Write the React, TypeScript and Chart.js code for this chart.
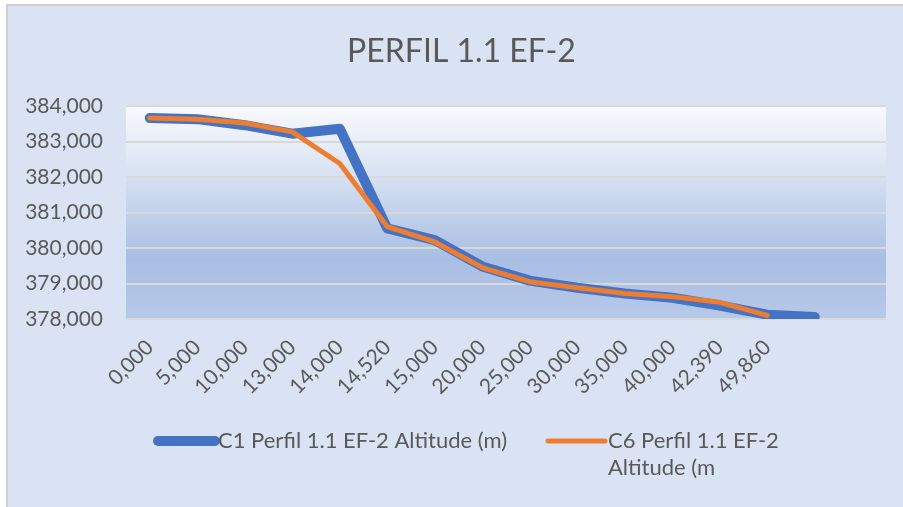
import React, { useEffect, useRef } from "react";
import { Chart, registerables } from "chart.js";

Chart.register(...registerables);

const categories = [
  "0,000", "5,000", "10,000", "13,000", "14,000", "14,520", "15,000", "20,000",
  "25,000", "30,000", "35,000", "40,000", "42,390", "49,860", "", "",
];
const c1Values = [
  383.66, 383.63, 383.46, 383.22, 383.36, 380.55, 380.22, 379.48,
  379.08, 378.88, 378.72, 378.6, 378.38, 378.12, 378.06,
];
const c6Values = [
  383.66, 383.63, 383.52, 383.27, 382.38, 380.6, 380.17, 379.45,
  379.05, 378.88, 378.72, 378.63, 378.47, 378.1,
];
const yMin = 378;
const yMax = 384;
const yStep = 1;
const titleText = "PERFIL 1.1 EF-2";
const seriesLabels = ["C1 Perfil 1.1 EF-2 Altitude (m)", "C6 Perfil 1.1 EF-2 Altitude (m"];
const legendLines = [["C1 Perfil 1.1 EF-2 Altitude (m)"], ["C6 Perfil 1.1 EF-2", "Altitude (m"]];

const FONT = "Lato, 'Noto Sans', sans-serif";
const TEXT = "#595959";
const BLUE = "#4472c4";
const ORANGE = "#ed7d31";

const backgroundPlugin = {
  id: "bgPlugin",
  beforeDraw(chart: any) {
    const { ctx, width, height, chartArea } = chart;
    ctx.save();
    ctx.fillStyle = "#ffffff";
    ctx.fillRect(0, 0, width, height);
    ctx.fillStyle = "#dae3f3";
    ctx.fillRect(7, 5, width - 7, height - 5);
    ctx.strokeStyle = "#d0d0d0";
    ctx.lineWidth = 2;
    ctx.beginPath();
    ctx.moveTo(7, height);
    ctx.lineTo(7, 5);
    ctx.lineTo(width, 5);
    ctx.stroke();
    const g = ctx.createLinearGradient(0, chartArea.top, 0, chartArea.bottom);
    g.addColorStop(0, "#f7f9fc");
    g.addColorStop(0.2, "#e6ecf6");
    g.addColorStop(0.45, "#c8d6ed");
    g.addColorStop(0.72, "#a9bee3");
    g.addColorStop(1, "#b7c9e8");
    ctx.fillStyle = g;
    ctx.fillRect(chartArea.left, chartArea.top, chartArea.right - chartArea.left, chartArea.bottom - chartArea.top);
    ctx.restore();
  },
};

const titleAndLegendPlugin = {
  id: "titleAndLegend",
  afterDraw(chart: any) {
    const { ctx } = chart;
    ctx.save();
    ctx.fillStyle = TEXT;
    ctx.font = `32px ${FONT}`;
    ctx.textAlign = "center";
    ctx.textBaseline = "middle";
    ctx.fillText(titleText, 461.5, 52);

    const items = [
      { x0: 158, x1: 215, tx: 218, w: 10, lines: legendLines[0] },
      { x0: 548, x1: 605, tx: 608, w: 5, lines: legendLines[1] },
    ];
    const y = 441;
    items.forEach((it, i) => {
      const ds = chart.data.datasets[i];
      ctx.strokeStyle = ds.borderColor;
      ctx.lineWidth = it.w;
      ctx.lineCap = "round";
      ctx.beginPath();
      ctx.moveTo(it.x0, y);
      ctx.lineTo(it.x1, y);
      ctx.stroke();
      ctx.fillStyle = TEXT;
      ctx.font = `22px ${FONT}`;
      ctx.textAlign = "left";
      ctx.textBaseline = "middle";
      it.lines.forEach((line, j) => ctx.fillText(line, it.tx, y + j * 27));
    });
    ctx.restore();
  },
};

export default function App() {
  const ref = useRef<HTMLCanvasElement | null>(null);
  useEffect(() => {
    document.body.style.margin = "0";
    const canvas = ref.current!;
    const chart = new Chart(canvas, {
      type: "line",
      data: {
        labels: categories,
        datasets: [
          {
            label: seriesLabels[0],
            data: c1Values,
            borderColor: BLUE,
            backgroundColor: BLUE,
            borderWidth: 10,
            pointRadius: 0,
            borderCapStyle: "round",
            borderJoinStyle: "round",
            tension: 0,
            order: 2,
          },
          {
            label: seriesLabels[1],
            data: c6Values,
            borderColor: ORANGE,
            backgroundColor: ORANGE,
            borderWidth: 5,
            pointRadius: 0,
            borderCapStyle: "round",
            borderJoinStyle: "round",
            tension: 0,
            order: 1,
          },
        ],
      },
      options: {
        responsive: false,
        animation: false,
        devicePixelRatio: 1,
        layout: { padding: { left: 0, right: 17, top: 106, bottom: 0 } },
        plugins: {
          legend: { display: false },
          tooltip: { enabled: false },
          title: { display: false },
        },
        scales: {
          x: {
            offset: true,
            grid: { display: false, drawTicks: false },
            border: { display: false },
            ticks: {
              color: TEXT,
              font: { family: FONT, size: 21 },
              minRotation: 45,
              maxRotation: 45,
              autoSkip: false,
              padding: 16,
            },
            afterFit(scale: any) {
              scale.height = 188;
            },
          },
          y: {
            min: yMin,
            max: yMax,
            grid: { color: "#d9d9d9", lineWidth: 2, drawTicks: false },
            border: { display: false },
            ticks: {
              stepSize: yStep,
              color: TEXT,
              font: { family: FONT, size: 21 },
              padding: 23,
              callback: (v: any) => Number(v).toFixed(3).replace(".", ","),
            },
            afterFit(scale: any) {
              scale.width = 126;
            },
          },
        },
      },
      plugins: [backgroundPlugin, titleAndLegendPlugin],
    });
    return () => chart.destroy();
  }, []);
  return <canvas ref={ref} width={903} height={507} style={{ display: "block", width: 903, height: 507 }} />;
}
